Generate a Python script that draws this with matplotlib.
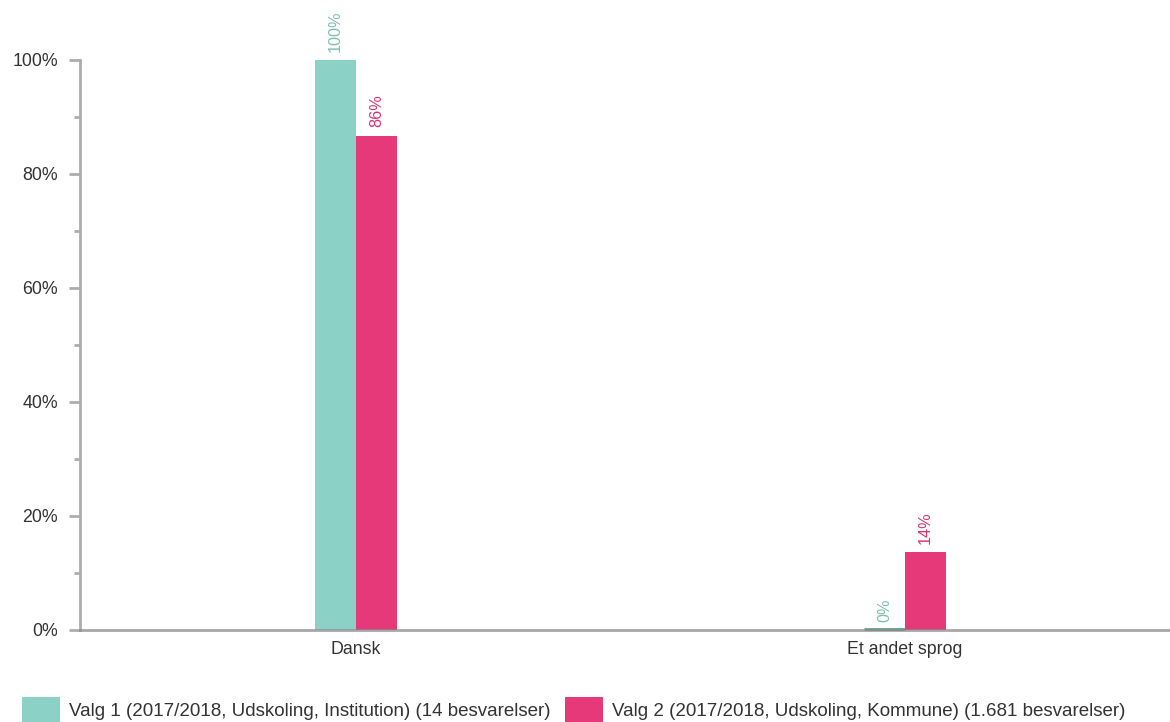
import matplotlib
matplotlib.use("Agg")
import matplotlib.pyplot as plt
from matplotlib.patches import Rectangle
import numpy as np

categories = ["Dansk", "Et andet sprog"]
series_names = ["Valg 1 (2017/2018, Udskoling, Institution) (14 besvarelser)",
                "Valg 2 (2017/2018, Udskoling, Kommune) (1.681 besvarelser)"]
valg1 = [100, 0]
valg2 = [86.7, 13.6]
valg1_labels = ["100%", "0%"]
valg2_labels = ["86%", "14%"]
yticks = [0, 20, 40, 60, 80, 100]
ytick_labels = ["0%", "20%", "40%", "60%", "80%", "100%"]

teal = "#8CD1C5"
pink = "#E6397A"
teal_txt = "#7DBFB2"
pink_txt = "#D93473"
txt = "#333333"
axis_col = "#ADADAD"

plt.rcParams['font.family'] = ['Liberation Sans', 'DejaVu Sans']

W, H = 1170, 722
fig = plt.figure(figsize=(W/100, H/100), dpi=100)
ax = fig.add_axes([80/W, (H-630)/H, (1170-80)/W, (630-60)/H])

x = np.arange(len(categories))
bw = 0.0735
off = 0.0375
ax.bar(x - off, valg1, width=bw, color=teal, zorder=2, linewidth=0)
ax.bar(x + off, valg2, width=bw, color=pink, zorder=2, linewidth=0)
# minimal visible marker for zero values
for xi, v in zip(x, valg1):
    if v == 0:
        ax.plot([xi - off - bw/2, xi - off + bw/2], [0.15, 0.15], color="#5E9E92",
                lw=2, solid_capstyle="butt", zorder=2.5, clip_on=False)
for xi, v in zip(x, valg2):
    if v == 0:
        ax.plot([xi + off - bw/2, xi + off + bw/2], [0.15, 0.15], color=pink,
                lw=2, solid_capstyle="butt", zorder=2.5, clip_on=False)

for xi, v, lab in zip(x, valg1, valg1_labels):
    ax.annotate(lab, (xi - off, v), xytext=(0, 6), textcoords="offset points",
                rotation=90, ha="center", va="bottom", fontsize=11.7, color=teal_txt,
                annotation_clip=False)
for xi, v, lab in zip(x, valg2, valg2_labels):
    ax.annotate(lab, (xi + off, v), xytext=(0, 6), textcoords="offset points",
                rotation=90, ha="center", va="bottom", fontsize=11.7, color=pink_txt,
                annotation_clip=False)

ax.set_xlim(-0.5025, 1.4825)
ax.set_ylim(0, 100)
ax.set_yticks(yticks)
ax.set_yticklabels(ytick_labels, fontsize=12.8, color=txt)
ax.set_yticks(np.arange(10, 100, 20), minor=True)
ax.tick_params(axis='y', which='major', length=8, width=2, color=axis_col, pad=8)
ax.tick_params(axis='y', which='minor', length=4, width=2, color=axis_col)
ax.set_xticks(x)
ax.set_xticklabels(categories, fontsize=12.8, color=txt)
ax.tick_params(axis='x', length=0, pad=8)

for s in ["top", "right"]:
    ax.spines[s].set_visible(False)
ax.spines["left"].set_color(axis_col)
ax.spines["left"].set_linewidth(2)
ax.spines["bottom"].set_color("#8a8a8a")
ax.spines["bottom"].set_alpha(0.75)
ax.spines["bottom"].set_linewidth(2)
ax.spines["left"].set_zorder(3)
ax.spines["bottom"].set_zorder(3)

# legend
fig.add_artist(Rectangle((22/W, 0), 38/W, 25/H, transform=fig.transFigure,
                         facecolor=teal, edgecolor="none"))
fig.text(69/W, (H-711)/H, series_names[0], fontsize=13.5, color=txt, va="center", ha="left")
fig.add_artist(Rectangle((565/W, 0), 38/W, 25/H, transform=fig.transFigure,
                         facecolor=pink, edgecolor="none"))
fig.text(612/W, (H-711)/H, series_names[1], fontsize=13.5, color=txt, va="center", ha="left")

fig.savefig("out.png", dpi=100)
